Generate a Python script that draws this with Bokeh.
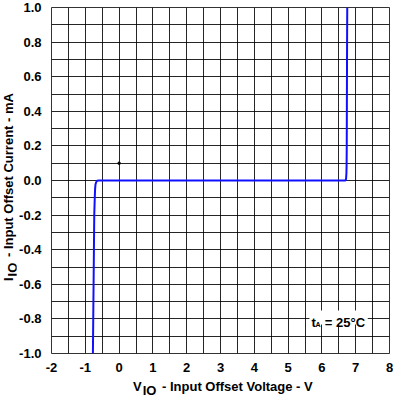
from bokeh.plotting import figure
from bokeh.models import Range1d, FixedTicker, SingleIntervalTicker, Label, BoxAnnotation, Div
from bokeh.layouts import row, column
from bokeh.embed import file_html
from bokeh.resources import INLINE

# ---- data ----
vio = [-0.775, -0.765, -0.755, -0.745, -0.735, -0.72, -0.71, -0.70, -0.68, -0.65, -0.60,
       1.0, 3.0, 5.0, 6.70, 6.715, 6.725, 6.73, 6.735, 6.74, 6.745, 6.75]
iio = [-1.0, -0.8, -0.6, -0.4, -0.2, -0.1, -0.05, -0.025, -0.01, -0.002, 0.0,
       0.0, 0.0, 0.0, 0.0, 0.01, 0.04, 0.08, 0.2, 0.5, 0.8, 1.0]
dot_x = [0.0]
dot_y = [0.1]

x_ticks = [-2, -1, 0, 1, 2, 3, 4, 5, 6, 7, 8]
x_tick_labels = ["-2", "-1", "0", "1", "2", "3", "4", "5", "6", "7", "8"]
y_ticks = [-1.0, -0.8, -0.6, -0.4, -0.2, 0.0, 0.2, 0.4, 0.6, 0.8, 1.0]
y_tick_labels = ["-1.0", "-0.8", "-0.6", "-0.4", "-0.2", "0.0", "0.2", "0.4", "0.6", "0.8", "1.0"]

x_title_parts = ["V", "IO", " - Input Offset Voltage - V"]
y_title_parts = ["I", "IO", " - Input Offset Current - mA"]
note_parts = ["t", "A", "= 25°C"]

FONT = "Liberation Sans"

# ---- layout ----
TOTAL_W, TOTAL_H = 393, 402
LW = 16                      # y-title column
W, H = TOTAL_W - LW, 376     # figure
BL, BR, BT, BB = 31, 4, 7, 23
X0, X1, Y0, Y1 = -2, 8, -1.0, 1.0
FL = LW + BL
FR = LW + W - BR
FT = BT
FB = H - BB


def px2x(px):
    return X0 + (px - FL) * (X1 - X0) / (FR - FL)


def py2y(py):
    return Y1 - (py - FT) * (Y1 - Y0) / (FB - FT)


p = figure(width=W, height=H, x_range=Range1d(X0, X1), y_range=Range1d(Y0, Y1),
           output_backend="svg", toolbar_location=None,
           min_border_left=BL, min_border_right=BR, min_border_top=BT, min_border_bottom=BB)

p.background_fill_color = "white"
p.border_fill_color = "white"
p.outline_line_color = "#000000"
p.outline_line_alpha = 0.8
p.outline_line_width = 1

p.xaxis.ticker = FixedTicker(ticks=x_ticks)
p.xaxis.major_label_overrides = {t: l for t, l in zip(x_ticks, x_tick_labels)}
p.yaxis.ticker = FixedTicker(ticks=y_ticks)
p.yaxis.major_label_overrides = {t: l for t, l in zip(y_ticks, y_tick_labels)}

for ax in (p.xaxis[0], p.yaxis[0]):
    ax.axis_line_color = None
    ax.major_tick_line_color = None
    ax.minor_tick_line_color = None
    ax.major_label_text_font = FONT
    ax.major_label_text_font_style = "bold"
    ax.major_label_text_font_size = "13px"
    ax.major_label_text_color = "black"
p.xaxis.major_label_standoff = 3
p.yaxis.major_label_standoff = 4

p.xgrid.ticker = SingleIntervalTicker(interval=0.5)
p.ygrid.ticker = SingleIntervalTicker(interval=0.1)
for g in (p.xgrid[0], p.ygrid[0]):
    g.grid_line_color = "black"
    g.grid_line_alpha = 0.85
    g.grid_line_width = 1

p.line(vio, iio, line_color="#1010ff", line_width=2)
p.scatter(dot_x, dot_y, marker="square", size=2, color="black")

# note box
p.add_layout(BoxAnnotation(left=px2x(308), right=px2x(367), top=py2y(310), bottom=py2y(324),
                           fill_color="white", fill_alpha=1.0, line_color=None))


def lab(text, px, py, size):
    p.add_layout(Label(x=px2x(px), y=py2y(py), text=text, text_font=FONT,
                       text_font_style="bold", text_font_size=size, text_color="black",
                       text_align="left", text_baseline="alphabetic"))


lab(note_parts[0], 310, 321.5, "13px")
lab(note_parts[1], 314, 323.5, "7px")
lab(note_parts[2], 323.5, 321.5, "13px")

FONT_CSS = ("font-family:'Liberation Sans',Arial,sans-serif;font-weight:bold;"
            "font-size:13px;line-height:15px;color:#000;white-space:nowrap;")
SUB_CSS = "position:relative;top:4px;padding:0 2px 0 1px;"

x_html = ('<div style="margin-left:133px;padding-top:3px;' + FONT_CSS + '">'
          + x_title_parts[0] + '<span style="' + SUB_CSS + '">' + x_title_parts[1] + '</span>'
          + x_title_parts[2] + '</div>')
y_html = ('<div style="position:absolute;left:1px;top:281px;transform-origin:0 0;'
          'transform:rotate(-90deg);' + FONT_CSS + '">'
          + y_title_parts[0] + '<span style="' + SUB_CSS + '">' + y_title_parts[1] + '</span>'
          + y_title_parts[2] + '</div>')

ydiv = Div(text=y_html, width=LW, height=H, margin=0, styles={"overflow": "visible"})
xdiv = Div(text=x_html, width=TOTAL_W, height=TOTAL_H - H, margin=0, styles={"overflow": "visible"})

layout = column(row(ydiv, p, spacing=0), xdiv, spacing=0)

open("out.html", "w").write(file_html(layout, INLINE))
